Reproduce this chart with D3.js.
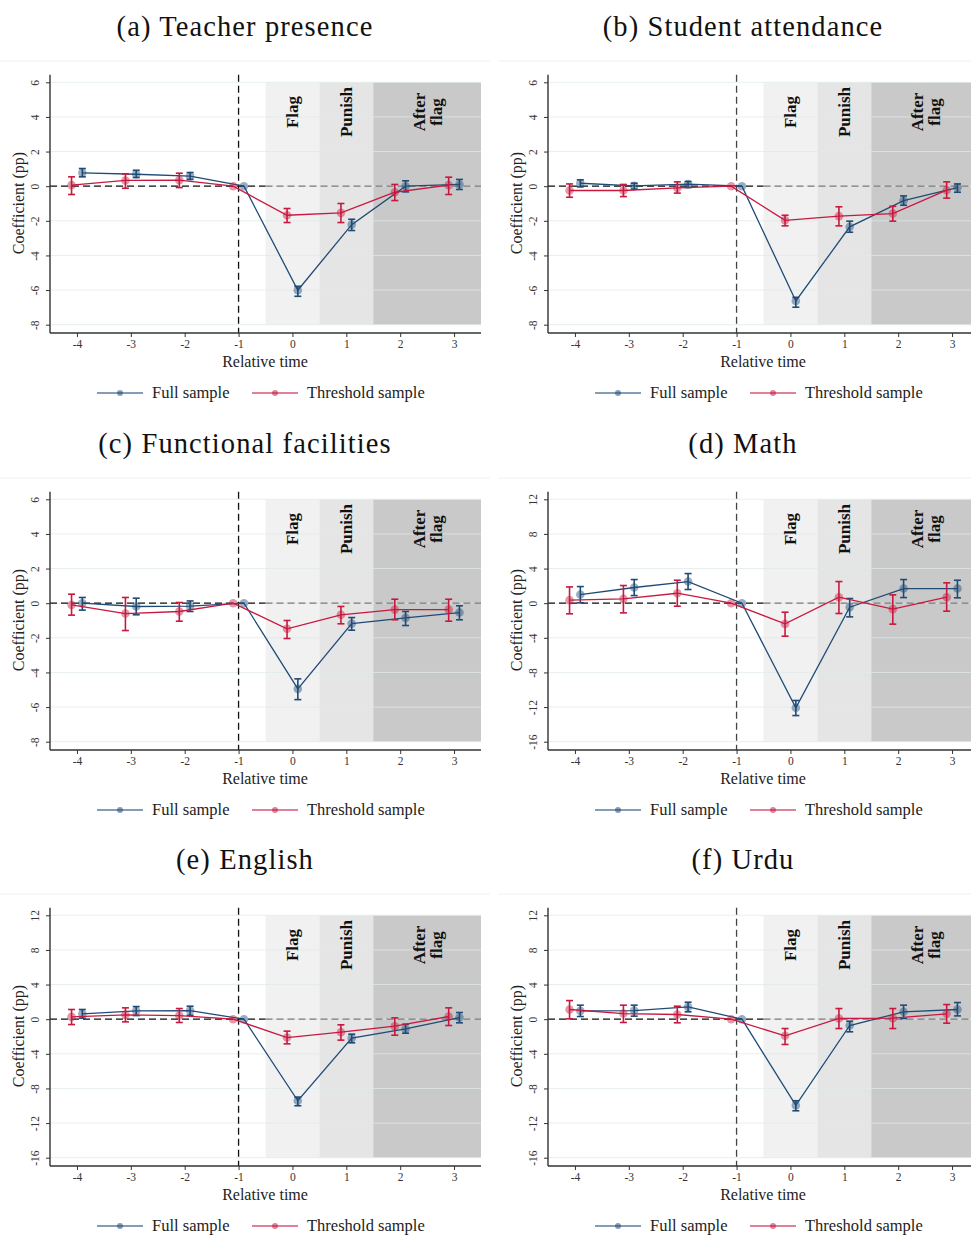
<!DOCTYPE html>
<html>
<head>
<meta charset="utf-8">
<script src="https://cdn.jsdelivr.net/npm/d3@7"></script>
<style>
  body { margin: 0; background: #fff; }
  svg { display: block; }
</style>
</head>
<body>
<svg id="chart" width="971" height="1238"></svg>
<script>
// Event-study coefficients, relative time -4..3 (t = -1 is the omitted base period).
// Each entry is [estimate, ci_low, ci_high]; null CI at the base period.
const relTime = [-4, -3, -2, -1, 0, 1, 2, 3];

const teacherFull      = [[0.77,0.54,1.02],[0.69,0.50,0.92],[0.58,0.39,0.79],[0,null,null],[-6.01,-6.36,-5.78],[-2.22,-2.56,-1.91],[0.00,-0.33,0.31],[0.10,-0.19,0.39]];
const teacherThreshold = [[0.06,-0.48,0.54],[0.33,-0.12,0.71],[0.35,-0.08,0.75],[0,null,null],[-1.68,-2.10,-1.29],[-1.54,-2.10,-1.00],[-0.35,-0.83,0.10],[0.06,-0.48,0.52]];

const studentFull      = [[0.17,-0.04,0.37],[0.02,-0.17,0.17],[0.12,-0.08,0.27],[0,null,null],[-6.63,-6.99,-6.42],[-2.35,-2.66,-2.02],[-0.83,-1.10,-0.56],[-0.08,-0.35,0.13]];
const studentThreshold = [[-0.25,-0.64,0.13],[-0.25,-0.60,0.10],[-0.10,-0.40,0.25],[0,null,null],[-1.97,-2.29,-1.68],[-1.73,-2.29,-1.19],[-1.58,-2.02,-1.16],[-0.23,-0.69,0.25]];

const facilitiesFull      = [[0.00,-0.40,0.33],[-0.19,-0.67,0.29],[-0.17,-0.48,0.13],[0,null,null],[-4.95,-5.57,-4.37],[-1.18,-1.56,-0.83],[-0.85,-1.29,-0.48],[-0.54,-0.96,-0.15]];
const facilitiesThreshold = [[-0.10,-0.69,0.52],[-0.60,-1.58,0.33],[-0.48,-1.04,0.04],[0,null,null],[-1.48,-2.04,-1.00],[-0.67,-1.19,-0.19],[-0.37,-0.96,0.23],[-0.37,-1.04,0.23]];

const mathFull      = [[1.00,0.04,1.92],[1.81,0.88,2.73],[2.50,1.58,3.42],[0,null,null],[-12.08,-12.98,-11.24],[-0.46,-1.58,0.54],[1.69,0.65,2.73],[1.69,0.62,2.65]];
const mathThreshold = [[0.35,-1.23,1.88],[0.50,-1.12,2.04],[1.15,-0.35,2.65],[0,null,null],[-2.39,-3.81,-1.04],[0.69,-1.19,2.50],[-0.69,-2.42,0.96],[0.69,-0.92,2.35]];

const englishFull      = [[0.62,0.12,1.12],[0.96,0.42,1.46],[1.00,0.46,1.50],[0,null,null],[-9.42,-10.00,-9.00],[-2.19,-2.73,-1.73],[-1.12,-1.62,-0.58],[0.19,-0.42,0.77]];
const englishThreshold = [[0.27,-0.62,1.12],[0.50,-0.31,1.31],[0.42,-0.38,1.23],[0,null,null],[-2.12,-2.85,-1.38],[-1.50,-2.42,-0.65],[-0.81,-1.85,0.15],[0.31,-0.73,1.31]];

const urduFull      = [[0.96,0.31,1.62],[1.00,0.35,1.62],[1.42,0.85,1.96],[0,null,null],[-9.96,-10.58,-9.42],[-0.73,-1.46,-0.23],[0.85,0.08,1.62],[1.12,0.38,1.92]];
const urduThreshold = [[1.12,0.04,2.15],[0.65,-0.38,1.62],[0.54,-0.42,1.50],[0,null,null],[-1.92,-2.92,-1.08],[0.08,-1.08,1.23],[0.12,-1.08,1.23],[0.62,-0.46,1.69]];

const panelTitles = ["(a) Teacher presence", "(b) Student attendance", "(c) Functional facilities", "(d) Math", "(e) English", "(f) Urdu"];
const ticksNarrow = [-8, -6, -4, -2, 0, 2, 4, 6];
const ticksWide   = [-16, -12, -8, -4, 0, 4, 8, 12];
const seriesNames = ["Full sample", "Threshold sample"];
const phaseBands  = [
  { label: ["Flag"],          from: -0.5, to: 0.5 },
  { label: ["Punish"],        from: 0.5,  to: 1.5 },
  { label: ["After", "flag"], from: 1.5,  to: 3.5 }
];

const panels = [
  { title: panelTitles[0], ticks: ticksNarrow, full: teacherFull,    thr: teacherThreshold },
  { title: panelTitles[1], ticks: ticksNarrow, full: studentFull,    thr: studentThreshold },
  { title: panelTitles[2], ticks: ticksNarrow, full: facilitiesFull, thr: facilitiesThreshold },
  { title: panelTitles[3], ticks: ticksWide,   full: mathFull,       thr: mathThreshold },
  { title: panelTitles[4], ticks: ticksWide,   full: englishFull,    thr: englishThreshold },
  { title: panelTitles[5], ticks: ticksWide,   full: urduFull,       thr: urduThreshold }
];

const BLUE = "#1f4b77", RED = "#c8183f";
const bandFills = ["#f1f1f1", "#e5e5e5", "#c9c9c9"];
const axisFont = "'Liberation Serif', 'Times New Roman', serif";
const titleFont = "'Liberation Serif', 'DejaVu Serif', serif";

const svg = d3.select("#chart");
svg.append("rect").attr("width", 971).attr("height", 1238).attr("fill", "#fff");

const colX = [0, 498], rowY = [0, 417, 833];

panels.forEach((p, i) => {
  const ox = colX[i % 2], oy = rowY[Math.floor(i / 2)];
  const g = svg.append("g").attr("transform", `translate(${ox},${oy})`);

  const x = d3.scaleLinear().domain([-4.5, 3.5]).range([50, 481]);
  const y = d3.scaleLinear().domain([d3.min(p.ticks), d3.max(p.ticks)]).range([324.7, 82.3]);
  const yTop = y.range()[1] - 7.5, yBot = y.range()[0] + 8.3;

  // faint frame line above each graph
  g.append("line").attr("x1", 0).attr("x2", 490).attr("y1", 61).attr("y2", 61)
    .attr("stroke", "#f0f0f0").attr("stroke-width", 1);

  // title
  g.append("text").attr("x", 245).attr("y", 36).attr("text-anchor", "middle")
    .attr("font-family", titleFont).attr("font-size", 28.5).attr("letter-spacing", 1.1)
    .attr("fill", "#111")
    .text(p.title);

  // phase bands
  phaseBands.forEach((b, k) => {
    g.append("rect")
      .attr("x", x(b.from)).attr("width", x(b.to) - x(b.from))
      .attr("y", y(d3.max(p.ticks))).attr("height", y(d3.min(p.ticks)) - y(d3.max(p.ticks)))
      .attr("fill", bandFills[k]);
  });

  // gridlines
  g.append("g").selectAll("line").data(p.ticks).join("line")
    .attr("x1", x(-4.5)).attr("x2", x(3.5))
    .attr("y1", d => y(d)).attr("y2", d => y(d))
    .attr("stroke", "#dfeaea").attr("stroke-opacity", 0.75).attr("stroke-width", 1);

  // band labels
  phaseBands.forEach((b, k) => {
    const cx = x((b.from + b.to) / 2);
    const lines = b.label;
    const offs = lines.length === 1 ? [6] : [-2, 15];
    lines.forEach((t, j) => {
      g.append("text")
        .attr("transform", `translate(${cx + offs[j]},112) rotate(-90)`)
        .attr("text-anchor", "middle")
        .attr("font-family", axisFont).attr("font-weight", "bold")
        .attr("font-size", 17).attr("fill", "#111")
        .text(t);
    });
  });

  // zero reference line: dark before the flag, grey over the bands
  g.append("line").attr("x1", x(-4.5)).attr("x2", x(-0.5)).attr("y1", y(0)).attr("y2", y(0))
    .attr("stroke", "#111").attr("stroke-width", 1.3).attr("stroke-dasharray", "7,4");
  g.append("line").attr("x1", x(-0.5)).attr("x2", x(3.5)).attr("y1", y(0)).attr("y2", y(0))
    .attr("stroke", "#7a7a7a").attr("stroke-width", 1.3).attr("stroke-dasharray", "7,4");

  // base-period vertical line
  g.append("line").attr("x1", x(-1)).attr("x2", x(-1)).attr("y1", yTop).attr("y2", yBot)
    .attr("stroke", i % 2 ? "#444" : "#111").attr("stroke-width", 1.3).attr("stroke-dasharray", "7,4");

  // axes
  const xAxis = d3.axisBottom(x).tickValues(relTime).tickSize(4).tickSizeOuter(0).tickPadding(3)
    .tickFormat(d3.format("d"));
  const xg = g.append("g").attr("transform", `translate(0,${yBot})`).call(xAxis);
  xg.select(".domain").attr("d", `M${x(-4.5)},0H${x(3.5)}`).attr("stroke", "#333").attr("stroke-width", 1.4);
  xg.selectAll(".tick line").attr("stroke", "#333");
  xg.selectAll(".tick text").attr("font-family", axisFont).attr("font-size", 11.5).attr("fill", "#333")
    .text(d => d < 0 ? "-" + Math.abs(d) : d);

  const yAxis = d3.axisLeft(y).tickValues(p.ticks).tickSize(4).tickSizeOuter(0).tickFormat(d3.format("d"));
  const yg = g.append("g").attr("transform", `translate(${x(-4.5)},0)`).call(yAxis);
  yg.select(".domain").attr("d", `M0,${yTop}V${yBot}`).attr("stroke", "#333").attr("stroke-width", 1.4);
  yg.selectAll(".tick line").attr("stroke", "#333");
  yg.selectAll(".tick text")
    .attr("x", null).attr("dy", null)
    .attr("transform", "translate(-11,0) rotate(-90)")
    .attr("text-anchor", "middle")
    .attr("font-family", axisFont).attr("font-size", 11.5).attr("fill", "#333")
    .text(d => d < 0 ? "-" + Math.abs(d) : d);

  // axis titles
  g.append("text").attr("x", 265).attr("y", 367).attr("text-anchor", "middle")
    .attr("font-family", axisFont).attr("font-size", 16).attr("fill", "#222").text("Relative time");
  g.append("text").attr("transform", "translate(24,203) rotate(-90)").attr("text-anchor", "middle")
    .attr("font-family", axisFont).attr("font-size", 16).attr("fill", "#222").text("Coefficient (pp)");

  // series
  const drawSeries = (data, shift, color) => {
    const pts = data.map((d, k) => ({ t: relTime[k] + shift, est: d[0], lo: d[1], hi: d[2] }));
    g.append("path").datum(pts)
      .attr("d", d3.line().x(d => x(d.t)).y(d => y(d.est)))
      .attr("fill", "none").attr("stroke", color).attr("stroke-width", 1.3);
    const eb = g.append("g").selectAll("g").data(pts.filter(d => d.lo !== null)).join("g")
      .attr("stroke", color).attr("stroke-width", 1.6);
    eb.append("line").attr("x1", d => x(d.t)).attr("x2", d => x(d.t))
      .attr("y1", d => y(d.lo)).attr("y2", d => y(d.hi));
    eb.append("line").attr("x1", d => x(d.t) - 3.5).attr("x2", d => x(d.t) + 3.5)
      .attr("y1", d => y(d.lo)).attr("y2", d => y(d.lo));
    eb.append("line").attr("x1", d => x(d.t) - 3.5).attr("x2", d => x(d.t) + 3.5)
      .attr("y1", d => y(d.hi)).attr("y2", d => y(d.hi));
    g.append("g").selectAll("circle").data(pts).join("circle")
      .attr("cx", d => x(d.t)).attr("cy", d => y(d.est)).attr("r", 4.3)
      .attr("fill", color).attr("fill-opacity", 0.45);
  };
  drawSeries(p.full, 0.1, BLUE);
  drawSeries(p.thr, -0.1, RED);

  // legend
  const lg = g.append("g").attr("transform", "translate(0,393)");
  [[BLUE, 97, seriesNames[0]], [RED, 252, seriesNames[1]]].forEach(([c, lx, name]) => {
    lg.append("line").attr("x1", lx).attr("x2", lx + 46).attr("y1", 0).attr("y2", 0)
      .attr("stroke", c).attr("stroke-opacity", 0.55).attr("stroke-width", 1.8);
    lg.append("circle").attr("cx", lx + 23).attr("cy", 0).attr("r", 3).attr("fill", c).attr("fill-opacity", 0.55);
    lg.append("text").attr("x", lx + 55).attr("y", 5).attr("font-family", axisFont)
      .attr("font-size", 16.5).attr("fill", "#222").text(name);
  });
});
</script>
</body>
</html>
